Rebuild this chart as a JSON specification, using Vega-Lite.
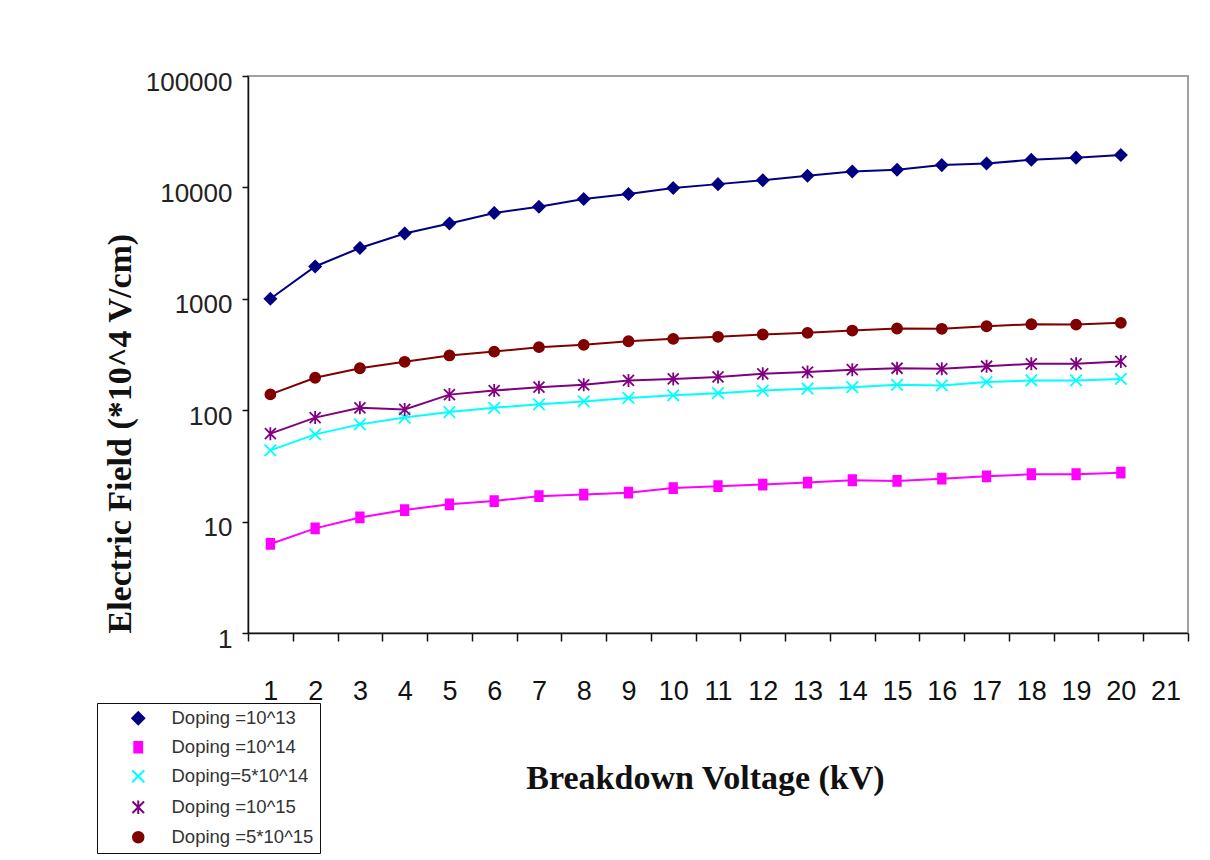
{
  "$schema": "https://vega.github.io/schema/vega-lite/v6.json",
  "autosize": "none",
  "width": 940,
  "height": 557,
  "padding": {"left": 248, "top": 76, "right": 22, "bottom": 227},
  "background": "white",
  "config": {
    "view": {"stroke": "#a0a0a0", "strokeWidth": 2},
    "axis": {"grid": false, "domainColor": "#111", "tickColor": "#111", "domainWidth": 1.5, "tickWidth": 1.5}
  },
  "data": {"values": [
    {"kV":1,"E":1000,"series":"Doping =10^13"},{"kV":2,"E":1950,"series":"Doping =10^13"},{"kV":3,"E":2860,"series":"Doping =10^13"},{"kV":4,"E":3860,"series":"Doping =10^13"},{"kV":5,"E":4750,"series":"Doping =10^13"},{"kV":6,"E":5890,"series":"Doping =10^13"},{"kV":7,"E":6700,"series":"Doping =10^13"},{"kV":8,"E":7860,"series":"Doping =10^13"},{"kV":9,"E":8710,"series":"Doping =10^13"},{"kV":10,"E":9860,"series":"Doping =10^13"},{"kV":11,"E":10700,"series":"Doping =10^13"},{"kV":12,"E":11600,"series":"Doping =10^13"},{"kV":13,"E":12700,"series":"Doping =10^13"},{"kV":14,"E":13900,"series":"Doping =10^13"},{"kV":15,"E":14400,"series":"Doping =10^13"},{"kV":16,"E":15850,"series":"Doping =10^13"},{"kV":17,"E":16400,"series":"Doping =10^13"},{"kV":18,"E":17700,"series":"Doping =10^13"},{"kV":19,"E":18500,"series":"Doping =10^13"},{"kV":20,"E":19500,"series":"Doping =10^13"},
    {"kV":1,"E":6.3,"series":"Doping =10^14"},{"kV":2,"E":8.7,"series":"Doping =10^14"},{"kV":3,"E":10.9,"series":"Doping =10^14"},{"kV":4,"E":12.7,"series":"Doping =10^14"},{"kV":5,"E":14.3,"series":"Doping =10^14"},{"kV":6,"E":15.3,"series":"Doping =10^14"},{"kV":7,"E":16.9,"series":"Doping =10^14"},{"kV":8,"E":17.5,"series":"Doping =10^14"},{"kV":9,"E":18.2,"series":"Doping =10^14"},{"kV":10,"E":20.0,"series":"Doping =10^14"},{"kV":11,"E":20.8,"series":"Doping =10^14"},{"kV":12,"E":21.5,"series":"Doping =10^14"},{"kV":13,"E":22.4,"series":"Doping =10^14"},{"kV":14,"E":23.5,"series":"Doping =10^14"},{"kV":15,"E":23.2,"series":"Doping =10^14"},{"kV":16,"E":24.3,"series":"Doping =10^14"},{"kV":17,"E":25.5,"series":"Doping =10^14"},{"kV":18,"E":26.6,"series":"Doping =10^14"},{"kV":19,"E":26.6,"series":"Doping =10^14"},{"kV":20,"E":27.5,"series":"Doping =10^14"},
    {"kV":1,"E":43.6,"series":"Doping=5*10^14"},{"kV":2,"E":60.7,"series":"Doping=5*10^14"},{"kV":3,"E":74.6,"series":"Doping=5*10^14"},{"kV":4,"E":85.8,"series":"Doping=5*10^14"},{"kV":5,"E":96.2,"series":"Doping=5*10^14"},{"kV":6,"E":105,"series":"Doping=5*10^14"},{"kV":7,"E":113,"series":"Doping=5*10^14"},{"kV":8,"E":120,"series":"Doping=5*10^14"},{"kV":9,"E":129,"series":"Doping=5*10^14"},{"kV":10,"E":136,"series":"Doping=5*10^14"},{"kV":11,"E":142,"series":"Doping=5*10^14"},{"kV":12,"E":150,"series":"Doping=5*10^14"},{"kV":13,"E":156,"series":"Doping=5*10^14"},{"kV":14,"E":161,"series":"Doping=5*10^14"},{"kV":15,"E":169,"series":"Doping=5*10^14"},{"kV":16,"E":167,"series":"Doping=5*10^14"},{"kV":17,"E":179,"series":"Doping=5*10^14"},{"kV":18,"E":185,"series":"Doping=5*10^14"},{"kV":19,"E":185,"series":"Doping=5*10^14"},{"kV":20,"E":191,"series":"Doping=5*10^14"},
    {"kV":1,"E":61.6,"series":"Doping =10^15"},{"kV":2,"E":85.8,"series":"Doping =10^15"},{"kV":3,"E":105,"series":"Doping =10^15"},{"kV":4,"E":101.6,"series":"Doping =10^15"},{"kV":5,"E":138,"series":"Doping =10^15"},{"kV":6,"E":150,"series":"Doping =10^15"},{"kV":7,"E":161,"series":"Doping =10^15"},{"kV":8,"E":169,"series":"Doping =10^15"},{"kV":9,"E":185,"series":"Doping =10^15"},{"kV":10,"E":191,"series":"Doping =10^15"},{"kV":11,"E":199,"series":"Doping =10^15"},{"kV":12,"E":212,"series":"Doping =10^15"},{"kV":13,"E":220,"series":"Doping =10^15"},{"kV":14,"E":231,"series":"Doping =10^15"},{"kV":15,"E":238,"series":"Doping =10^15"},{"kV":16,"E":235,"series":"Doping =10^15"},{"kV":17,"E":248,"series":"Doping =10^15"},{"kV":18,"E":261,"series":"Doping =10^15"},{"kV":19,"E":261,"series":"Doping =10^15"},{"kV":20,"E":274,"series":"Doping =10^15"},
    {"kV":1,"E":138.6,"series":"Doping =5*10^15"},{"kV":2,"E":195.6,"series":"Doping =5*10^15"},{"kV":3,"E":238,"series":"Doping =5*10^15"},{"kV":4,"E":272,"series":"Doping =5*10^15"},{"kV":5,"E":310,"series":"Doping =5*10^15"},{"kV":6,"E":336,"series":"Doping =5*10^15"},{"kV":7,"E":368,"series":"Doping =5*10^15"},{"kV":8,"E":386,"series":"Doping =5*10^15"},{"kV":9,"E":416,"series":"Doping =5*10^15"},{"kV":10,"E":437,"series":"Doping =5*10^15"},{"kV":11,"E":456,"series":"Doping =5*10^15"},{"kV":12,"E":478,"series":"Doping =5*10^15"},{"kV":13,"E":495,"series":"Doping =5*10^15"},{"kV":14,"E":519,"series":"Doping =5*10^15"},{"kV":15,"E":541,"series":"Doping =5*10^15"},{"kV":16,"E":538,"series":"Doping =5*10^15"},{"kV":17,"E":567,"series":"Doping =5*10^15"},{"kV":18,"E":591,"series":"Doping =5*10^15"},{"kV":19,"E":587,"series":"Doping =5*10^15"},{"kV":20,"E":608,"series":"Doping =5*10^15"}
  ]},
  "encoding": {
    "x": {
      "field": "kV", "type": "ordinal",
      "scale": {"type": "band", "domain": [1,2,3,4,5,6,7,8,9,10,11,12,13,14,15,16,17,18,19,20,21], "paddingInner": 0, "paddingOuter": 0},
      "axis": {
        "title": "Breakdown Voltage (kV)", "tickBand": "extent", "tickSize": 8, "labelAngle": 0, "labelPadding": 37,
        "labelFont": "Liberation Sans Narrow, Liberation Sans", "labelFontSize": 27, "labelColor": "#111", "labelOverlap": false,
        "titleFont": "Liberation Serif", "titleFontSize": 34, "titleFontWeight": "bold", "titleColor": "#111", "titlePadding": 57, "titleX": 457
      }
    },
    "y": {
      "field": "E", "type": "quantitative",
      "scale": {"type": "log", "domain": [1, 100000], "nice": false},
      "axis": {
        "title": "Electric Field (*10^4 V/cm)", "values": [1,10,100,1000,10000,100000], "format": "d", "tickSize": 6, "labelPadding": 10, "labelOffset": 6,
        "labelFont": "Liberation Sans", "labelFontSize": 26, "labelColor": "#222",
        "titleFont": "Liberation Serif", "titleFontSize": 34, "titleFontWeight": "bold", "titleColor": "#111", "titleAnchor": "start", "titlePadding": 8
      }
    }
  },
  "layer": [
    {
      "mark": {"type": "line", "strokeWidth": 2},
      "encoding": {
        "stroke": {"field": "series", "type": "nominal",
          "scale": {"domain": ["Doping =10^13","Doping =10^14","Doping=5*10^14","Doping =10^15","Doping =5*10^15"], "range": ["#000080","#ff00ff","#00ffff","#800080","#800000"]}},
        "detail": {"field": "series"}
      }
    },
    {
      "mark": {"type": "point", "filled": true, "opacity": 1, "strokeWidth": 1.8, "size": 100},
      "encoding": {
        "color": {"field": "series", "type": "nominal",
          "scale": {"domain": ["Doping =10^13","Doping =10^14","Doping=5*10^14","Doping =10^15","Doping =5*10^15"], "range": ["#000080","#ff00ff","#00ffff","#800080","#800000"]},
          "legend": {
            "title": null, "orient": "none", "legendX": -151, "legendY": 627,
            "padding": 6, "strokeColor": "#111", "fillColor": "white",
            "rowPadding": 9, "symbolSize": 110, "symbolStrokeWidth": 2, "symbolOffset": 26, "labelOffset": 24,
            "labelFont": "Liberation Sans", "labelFontSize": 18.5, "labelColor": "#333"
          }
        },
        "shape": {"field": "series", "type": "nominal",
          "scale": {"domain": ["Doping =10^13","Doping =10^14","Doping=5*10^14","Doping =10^15","Doping =5*10^15"],
            "range": ["M0,-1.15L1.15,0L0,1.15L-1.15,0Z","M-0.75,-1H0.75V1H-0.75Z","M-1.15,-1.15L1.15,1.15M1.15,-1.15L-1.15,1.15","M-1.1,-1.1L1.1,1.1M1.1,-1.1L-1.1,1.1M0,-1.3L0,1.3","M-1,0A1,1 0 1,1 1,0A1,1 0 1,1 -1,0Z"]}},
        "stroke": {"field": "series", "type": "nominal"}
      }
    }
  ]
}
